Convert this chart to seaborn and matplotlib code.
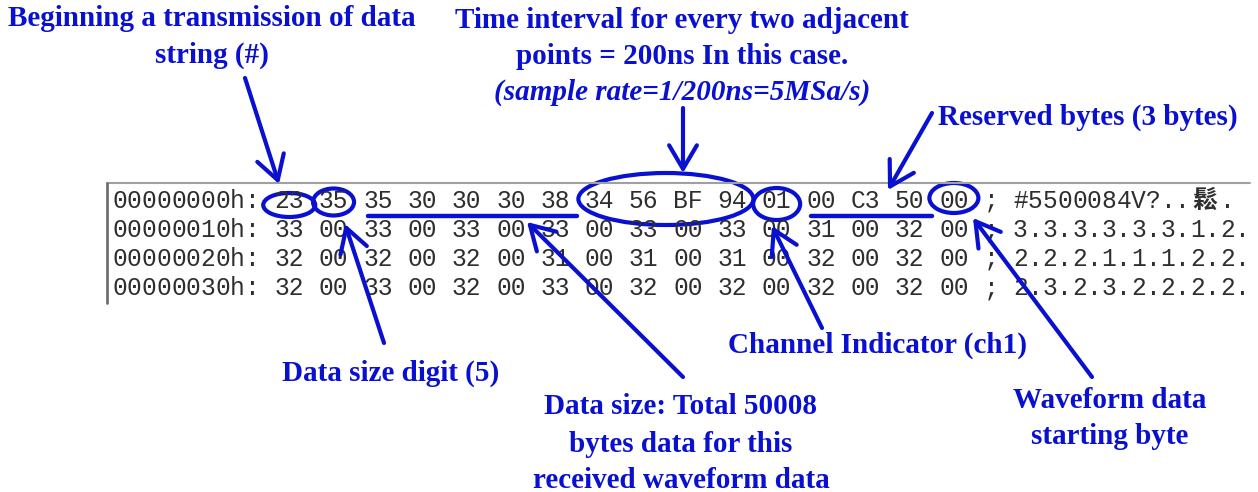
import matplotlib.pyplot as plt
import seaborn as sns
from matplotlib.patches import Ellipse

sns.set_theme(style='white')
plt.rcParams['font.family'] = ['Liberation Serif', 'DejaVu Serif']

# hex dump contents
addresses = ['00000000h:', '00000010h:', '00000020h:', '00000030h:']
hex_rows = [
    ['23', '35', '35', '30', '30', '30', '38', '34', '56', 'BF', '94', '01', '00', 'C3', '50', '00'],
    ['33', '00', '33', '00', '33', '00', '33', '00', '33', '00', '33', '00', '31', '00', '32', '00'],
    ['32', '00', '32', '00', '32', '00', '31', '00', '31', '00', '31', '00', '32', '00', '32', '00'],
    ['32', '00', '33', '00', '32', '00', '33', '00', '32', '00', '32', '00', '32', '00', '32', '00'],
]
ascii_rows = ['#5500084V?..鬆.', '3.3.3.3.3.3.1.2.', '2.2.2.1.1.1.2.2.', '2.3.2.3.2.2.2.2.']

# circled byte groups (row 0): first byte, last byte
circle_first = [0, 1, 7, 11, 15]
circle_last = [0, 1, 10, 11, 15]
circle_w = [52, 41, 175, 47, 49]
circle_h = [24, 27, 52, 32, 30]
circle_dy = [4, 1, -2, 3, -3]

# underlined byte groups (row 0)
under_first = [2, 12]
under_last = [6, 14]

# annotation labels
labels = [
    ['Beginning a transmission of data', 'string (#)'],
    ['Time interval for every two adjacent', 'points = 200ns In this case.'],
    ['Reserved bytes (3 bytes)'],
    ['Data size digit (5)'],
    ['Data size: Total 50008', 'bytes data for this', 'received waveform data'],
    ['Channel Indicator (ch1)'],
    ['Waveform data', 'starting byte'],
]
label_x = [212, 682, 1088, 391, 681, 878, 1110]
label_y = [18, 20, 117, 373, 407, 345, 400]
sample_rate_note = '(sample rate=1/200ns=5MSa/s)'

# arrows: base -> tip
arrow_from = [(245, 78), (683, 108), (932, 113), (384, 343), (683, 377), (822, 328), (1092, 377)]
arrow_to = [(279, 184), (683, 173), (888, 190), (345, 224), (527, 222), (772, 226), (973, 218)]

BLUE = '#0a10d0'
W, H = 1258, 492
x0, cw = 112, 14.77      # dump left edge and monospace column width (px)
y0, dy = 201, 29         # first row centre and row pitch (px)


def col_x(c):
    return x0 + (c + 0.5) * cw


def byte_x(i):
    return x0 + (12 + 3 * i) * cw


fig = plt.figure(figsize=(W / 100, H / 100), dpi=100)
ax = fig.add_axes([0, 0, 1, 1])
ax.set_xlim(0, W)
ax.set_ylim(H, 0)
ax.axis('off')

mono = dict(family='Liberation Mono', fontsize=17.7, color='#2e2e2e', ha='center', va='center')

# frame of the hex editor
ax.plot([107, 1250], [183, 183], color='#a0a0a0', lw=1.5)
ax.plot([107, 107], [183, 303], color='#707070', lw=2)

for r in range(4):
    y = y0 + r * dy
    for k, ch in enumerate(addresses[r]):
        ax.text(col_x(k), y, ch, **mono)
    for i, b in enumerate(hex_rows[r]):
        ax.text(byte_x(i), y, b, **mono)
    ax.text(col_x(59), y, ';', **mono)
    c = 61
    for ch in ascii_rows[r]:
        if ord(ch) > 127:
            ax.text(col_x(c) + cw / 2, y, ch, **{**mono, 'family': ['Noto Sans CJK SC'],
                                                 'fontsize': 18, 'fontweight': 'bold'})
            c += 2
        else:
            ax.text(col_x(c), y, ch, **mono)
            c += 1

# circles
for f, l, w, h, d in zip(circle_first, circle_last, circle_w, circle_h, circle_dy):
    cx = (byte_x(f) + byte_x(l)) / 2
    ax.add_patch(Ellipse((cx, y0 + d), w, h, fill=False, ec=BLUE, lw=3))

# underlines
for f, l in zip(under_first, under_last):
    sns.lineplot(x=[byte_x(f) - 10, byte_x(l) + 22], y=[216, 216], ax=ax, color=BLUE, lw=3.2)

# arrows
for a, b in zip(arrow_from, arrow_to):
    ax.annotate('', xy=b, xytext=a,
                arrowprops=dict(arrowstyle='->,head_length=0.85,head_width=0.5',
                                mutation_scale=20, lw=3, color=BLUE,
                                shrinkA=0, shrinkB=0))

# labels
for lines, lx, ly in zip(labels, label_x, label_y):
    for k, t in enumerate(lines):
        ax.text(lx, ly + k * 37, t, fontsize=21, fontweight='bold', color=BLUE,
                ha='center', va='center')
ax.text(label_x[1], 92, sample_rate_note, fontsize=21, fontweight='bold', style='italic',
        color=BLUE, ha='center', va='center')

fig.savefig('out.png', dpi=100)
